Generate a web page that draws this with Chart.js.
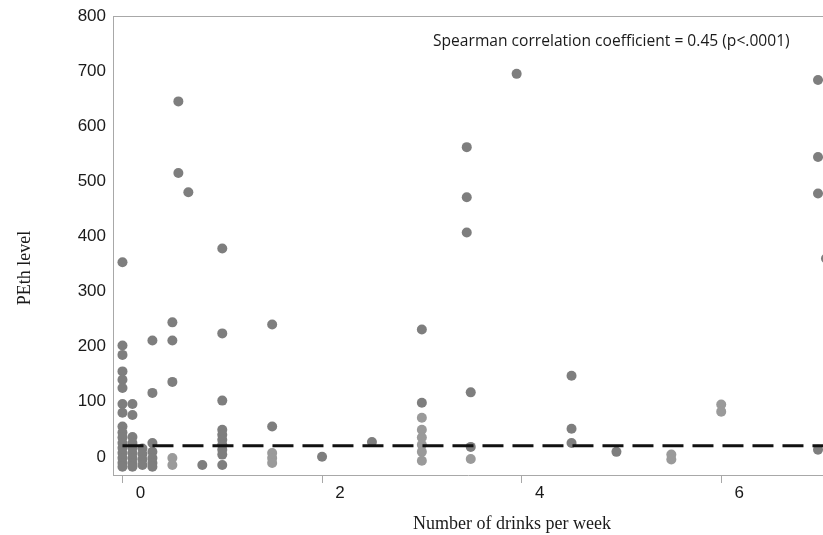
<!DOCTYPE html>
<html>
<head>
<meta charset="utf-8">
<script src="https://cdn.jsdelivr.net/npm/chart.js@4.4.1/dist/chart.umd.min.js"></script>
<style>
  html, body { margin: 0; padding: 0; background: #fff; }
</style>
</head>
<body>
<canvas id="chart" width="823" height="535"></canvas>
<script>
// values, column by column
const drinksDark = [
    0, 0, 0, 0, 0, 0, 0, 0, 0, 0, 0, 0, 0, 0, 0, 0, 0,
    0.1, 0.1, 0.1, 0.1, 0.1, 0.1, 0.1, 0.1, 0.1,
    0.2, 0.2, 0.2, 0.2,
    0.3, 0.3, 0.3, 0.3, 0.3, 0.3, 0.3,
    0.5, 0.5, 0.5,
    0.56, 0.56,
    0.66,
    0.8,
    1, 1, 1, 1, 1, 1, 1, 1, 1, 1,
    1.5, 1.5,
    2,
    2.5,
    3, 3,
    3.45, 3.45, 3.45,
    3.49, 3.49,
    3.95,
    4.5, 4.5, 4.5,
    4.95,
    6.97, 6.97, 6.97, 6.97,
    7.05
];
const pethDark = [
    353, 202, 185, 155, 140, 125, 96, 80, 55, 44, 35, 25, 16, 7, -2, -11, -18,
    96, 76, 36, 25, 16, 7, -2, -11, -18,
    15, 5, -5, -15,
    211, 116, 25, 9, -2, -11, -18,
    244, 211, 136,
    645, 515,
    480,
    -15,
    378, 224, 102, 49, 40, 31, 22, 13, 4, -15,
    240, 55,
    0,
    27,
    231, 98,
    562, 471, 407,
    117, 18,
    695,
    147, 51, 25,
    9,
    684, 544, 478, 13,
    360
];
const drinksLight = [0.5, 0.5, 1.5, 1.5, 1.5, 3, 3, 3, 3, 3, 3, 3.49, 5.5, 5.5, 6, 6];
const pethLight = [-2, -15, 7, -2, -11, 71, 49, 35, 22, 9, -7, -4, 4, -5, 95, 82];

const cutoffLevel = 20;
const cutoffFrom = 0;
const cutoffTo = 7.1;

const xTicks = [0, 2, 4, 6];
const yTicks = [0, 100, 200, 300, 400, 500, 600, 700, 800];

const note = "Spearman correlation coefficient = 0.45 (p<.0001)";
const xTitle = "Number of drinks per week";
const yTitle = "PEth level";

const axisGrey = "#a8a8a8";
const ink = "#1a1a1a";

const toPoints = (xs, ys) => xs.map((x, i) => ({ x: x, y: ys[i] }));

// top border line and the free text
const frame = {
    id: "frame",
    afterDraw(chart) {
        const { ctx, chartArea: a } = chart;
        ctx.save();
        ctx.strokeStyle = axisGrey;
        ctx.lineWidth = 1;
        ctx.beginPath();
        ctx.moveTo(a.left, a.top + 0.5);
        ctx.lineTo(a.right, a.top + 0.5);
        ctx.stroke();

        ctx.fillStyle = ink;
        ctx.textBaseline = "middle";
        ctx.font = "15.6px 'Open Sans'";
        ctx.fillText(note, 433, 42);

        ctx.font = "18px 'Liberation Serif'";
        ctx.fillText(xTitle, 413, 524);

        ctx.translate(25, 268);
        ctx.rotate(-Math.PI / 2);
        ctx.textAlign = "center";
        ctx.fillText(yTitle, 0, 0);
        ctx.restore();
    },
};

const chart = new Chart(document.getElementById("chart").getContext("2d"), {
    type: "scatter",
    data: {
        datasets: [
            {
                type: "line",
                label: "cutoff",
                data: [{ x: cutoffFrom, y: cutoffLevel }, { x: cutoffTo, y: cutoffLevel }],
                borderColor: "#111",
                borderWidth: 3,
                borderDash: [21, 9],
                pointRadius: 0,
                fill: false,
                order: 0,
            },
            {
                label: "dark",
                data: toPoints(drinksDark, pethDark),
                backgroundColor: "#7e7e7e",
                borderWidth: 0,
                pointRadius: 5,
                order: 1,
            },
            {
                label: "light",
                data: toPoints(drinksLight, pethLight),
                backgroundColor: "#9a9a9a",
                borderWidth: 0,
                pointRadius: 5,
                order: 2,
            },
        ],
    },
    options: {
        responsive: false,
        animation: false,
        events: [],
        layout: { autoPadding: false, padding: { top: 16, right: 0, left: 0, bottom: 0 } },
        plugins: {
            legend: { display: false },
            tooltip: { enabled: false },
        },
        scales: {
            x: {
                type: "linear",
                min: -0.095,
                max: 7.02,
                afterBuildTicks: (scale) => { scale.ticks = xTicks.map((v) => ({ value: v })); },
                afterFit: (scale) => {
                    scale.height = 60;
                    scale.paddingLeft = 0;
                    scale.paddingRight = 0;
                },
                grid: { drawOnChartArea: false, drawTicks: true, tickLength: 8, color: axisGrey },
                border: { color: axisGrey, width: 1 },
                ticks: {
                    padding: 0,
                    labelOffset: 18,
                    color: ink,
                    font: { family: "'Liberation Sans'", size: 17 },
                },
            },
            y: {
                type: "linear",
                min: -33,
                max: 800,
                afterBuildTicks: (scale) => { scale.ticks = yTicks.map((v) => ({ value: v })); },
                afterFit: (scale) => {
                    scale.width = 113;
                    scale.paddingTop = 0;
                    scale.paddingBottom = 0;
                },
                grid: { display: false },
                border: { color: axisGrey, width: 1 },
                ticks: {
                    padding: -1,
                    color: ink,
                    font: { family: "'Liberation Sans'", size: 17 },
                },
            },
        },
    },
    plugins: [frame],
});
</script>
</body>
</html>
